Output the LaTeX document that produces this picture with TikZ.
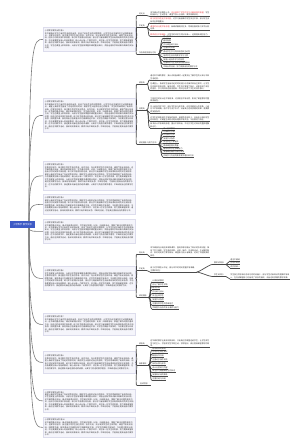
\documentclass[tikz,border=0pt]{standalone}
\usepackage{fontspec}
\setmainfont{Noto Sans CJK SC}
\usepackage{tikz}
\XeTeXlinebreaklocale "zh"
\XeTeXlinebreakskip=0pt plus 0.2pt
\definecolor{ink}{HTML}{333333}
\definecolor{wire}{HTML}{4A4A4A}
\definecolor{stemgray}{HTML}{7A7A7A}
\definecolor{rootblue}{HTML}{3F5BC6}
\definecolor{cardfill}{HTML}{F5F5FB}
\definecolor{cardline}{HTML}{DCDCEC}
\definecolor{hl}{HTML}{E8363A}
\newcommand\tinytxt{\fontsize{1.9}{2.45}\selectfont}
\newcommand\roottxt{\fontsize{2.3}{2.8}\selectfont}
% sentences of the cards
\newcommand\txtA{本节课我从学生已有的生活经验出发，创设了贴近生活的问题情境，让学生在动手操作中主动探索新知识。}
\newcommand\txtB{在教学过程中，我注重引导学生独立思考、合作交流，充分发挥学生的主体作用，课堂气氛比较活跃。}
\newcommand\txtC{但由于时间安排不够合理，练习环节显得比较仓促，部分学习有困难的学生没有得到及时的关注和指导。}
\newcommand\txtD{今后我要更加深入地钻研教材，精心设计每一个教学环节，关注每一位学生的发展，努力提高课堂效率。}
\newcommand\txtE{通过这次教学活动，我深刻地体会到，教师只有不断地反思、不断地总结，才能真正提高自身的教学水平。}
\newcommand\txtF{学生在课堂上表现积极，大部分学生能够掌握本课的重点知识，并能运用所学知识解决简单的实际问题。}
\newcommand\txtG{在今后的教学中，我还要多向有经验的老师请教，认真学习先进的教学理念，不断改进自己的教学方法。}
\newcommand\txtH{课堂上我给学生留出了充足的思考时间，鼓励学生大胆表达自己的想法，学生的思维得到了有效的训练。}
\newcommand\txtI{这节课的重点突出，难点突破得比较好，学生通过观察、比较、归纳等活动，掌握了解决问题的基本方法。}
\newcommand\txtJ{回顾整节课，我觉得自己在课堂评价方面做得还不够，对学生的鼓励不够及时，今后要注意加以改进。}

\begin{document}
\begin{tikzpicture}[x=1pt,y=-1pt,
  root/.style={fill=rootblue,text=white,font=\roottxt,inner sep=0pt,minimum width=25pt,minimum height=7pt},
  card/.style={draw=cardline,fill=cardfill,line width=0.8pt,inner sep=1.5pt,text width=89pt,anchor=north west,font=\tinytxt,text=ink,align=left},
  tpc/.style={font=\tinytxt,text=ink,inner xsep=0.2pt,inner ysep=0.5pt,anchor=south west,align=left,
    append after command={(\tikzlastnode.south west) edge[uline] (\tikzlastnode.south east)}},
  lbl/.style={tpc,inner xsep=1.8pt},
  uline/.style={draw=wire,line width=0.7pt},
  link/.style={draw=wire,line width=0.7pt},
  stem/.style={draw=stemgray,line width=0.6pt},
  brk/.style={to path={.. controls +(2.5,0) and +(-2.5,0) .. (\tikztotarget)}}]
  \useasboundingbox (0,0) rectangle (300,446);

  \node[root] (root) at (22.5,224.5) {小学数学 教学反思};
  \coordinate (up) at (29,221);
  \coordinate (dn) at (29,228);

  % left column
  \node[card,minimum height=24pt] (p1) at (43,27) {小学数学教学反思 篇1\\\txtA\txtB\txtC\txtD\txtE\txtF};
  \node[card,minimum height=34pt] (p2) at (43,98) {小学数学教学反思 篇2\\\txtA\txtH\txtB\txtI\txtF\txtC\txtJ\txtD\txtG\txtE};
  \node[card,minimum height=29pt] (p3) at (43,161) {小学数学教学反思 篇3\\\txtB\txtI\txtC\txtH\txtD\txtF\txtE\txtG};
  \node[card,minimum height=20pt] (p4) at (43,194) {小学数学教学反思 篇4\\\txtH\txtC\txtJ\txtD\txtE};
  \node[card,minimum height=24pt] (p5) at (43,219) {小学数学教学反思 篇5\\\txtI\txtA\txtF\txtC\txtG\txtE};
  \node[card,minimum height=24pt] (p6) at (43,266) {小学数学教学反思 篇6\\\txtF\txtB\txtJ\txtC\txtD\txtG};
  \node[card,minimum height=22pt] (p7) at (43,313) {小学数学教学反思 篇7\\\txtA\txtI\txtC\txtJ\txtE};
  \node[card,minimum height=22pt] (p8) at (43,351) {小学数学教学反思 篇8\\\txtB\txtH\txtC\txtD\txtG};
  \node[card,minimum height=23pt] (p9) at (43,389) {小学数学教学反思 篇9\\\txtH\txtF\txtI\txtC\txtD\txtE};
  \node[card,minimum height=20pt] (p10) at (43,417) {小学数学教学反思 篇10\\\txtI\txtB\txtJ\txtD\txtE};

  \foreach \c in {p1,p2,p3,p4}
    \draw[stem] (up) .. controls (up|-\c.west) and ([xshift=-10pt]\c.west) .. (\c.west);
  \foreach \c in {p5,p6,p7,p8,p9,p10}
    \draw[stem] (dn) .. controls (dn|-\c.west) and ([xshift=-10pt]\c.west) .. (\c.west);

  % tree of card 1
  \node[lbl] (a1) at (137,15.5) {闪光点};
  \node[lbl] (b1) at (137,27) {不足处};
  \node[lbl] (c1) at (137,54.5) {今后改进措施与方向};
  \foreach \n in {a1,b1,c1} \draw[link] (p1.east) to[brk] (\n.south west);
  \node[tpc,text width=59pt] (a1x) at (150,16.5) {本节课从生活情境入手，\textcolor{hl}{充分激发了学生的学习兴趣和探究欲望}，学生积极参与，主动思考，课堂气氛十分活跃，教学效果较好。};
  \draw[link] (a1.south east) to[brk] (a1x.south west);
  \node[tpc,text width=59pt] (b1x) at (150,23) {\textcolor{hl}{练习的层次性还不够明显}，对学习有困难的学生关注不够，部分学生没有完全掌握重点。};
  \node[tpc,text width=59pt] (b1y) at (150,30.5) {\textcolor{hl}{课堂时间分配不够合理}，新课讲解用时过多，导致后面的练习环节比较仓促。};
  \node[tpc,text width=59pt] (b1z) at (150,36.5) {\textcolor{hl}{教师语言不够精练}，对学生的评价方式比较单一，还需提高调控能力。};
  \foreach \n in {b1x,b1y,b1z} \draw[link] (b1.south east) to[brk] (\n.south west);
  \foreach \yy/\t [count=\i] in {38.5/精心备课, 42.25/因材施教, 46/优化课堂练习设计, 49.75/注重及时反馈,
      53.5/调动学生学习的积极性和主动性, 57.25/培养学生良好的数学学习习惯, 61/加强小组合作学习的指导,
      64.75/注重知识与生活实际的紧密联系, 68.5/不断反思总结，努力提高自身的教学水平}{
    \node[tpc] (c1n\i) at (163,\yy) {\t};
    \draw[link] (c1.south east) to[brk] (c1n\i.south west);
  }

  % tree of card 2
  \node[lbl] (a2) at (137,84) {收获处};
  \node[lbl] (b2) at (137,110) {问题处};
  \node[lbl] (c2) at (137,144.5) {改进措施 与努力方向};
  \foreach \n in {a2,b2,c2} \draw[link] (p2.east) to[brk] (\n.south west);
  \node[tpc,text width=59pt] (a2x) at (150,80) {通过本节课的教学，我认识到备课时一定要充分了解学生的认知水平和生活经验。};
  \node[tpc,text width=59pt] (a2y) at (150,90.5) {在课堂上，我给学生留出充足的时间进行动手操作和自主探究，让学生在实践中发现问题、解决问题，学生不仅掌握了知识，还体验到了成功的喜悦，学习的积极性明显提高，同时也培养了学生的合作意识。};
  \foreach \n in {a2x,a2y} \draw[link] (a2.south east) to[brk] (\n.south west);
  \node[tpc,text width=59pt] (b2x) at (150,102.5) {个别环节的设计还不够紧凑，过渡语言不够自然，影响了课堂教学的整体流畅性。};
  \node[tpc,text width=59pt] (b2y) at (150,113) {在小组合作学习时，部分学生参与度不高，存在依赖他人的现象，小组分工不够明确，合作学习流于形式，没有真正达到预期的效果，需要教师加强指导。};
  \node[tpc,text width=59pt] (b2z) at (150,121.5) {对学生的回答评价不够及时具体，激励性语言较少，没有充分调动学生的积极性，对课堂生成的问题处理得不够灵活，今后要努力改进。};
  \node[tpc,text width=59pt] (b2w) at (150,128) {板书设计不够美观合理，重点不够突出，不利于学生对知识的整体理解和记忆。};
  \foreach \n in {b2x,b2y,b2z,b2w} \draw[link] (b2.south east) to[brk] (\n.south west);
  \foreach \yy/\t [count=\i] in {130/深入钻研教材, 133.4/认真研究学情, 136.8/优化教学方法, 140.2/加强学法指导,
      143.6/关注学生个体差异, 147/提高课堂提问质量, 150.4/重视培养学生思维能力, 153.8/加强课后辅导与及时反馈,
      157.2/不断学习先进的教育教学理念和方法}{
    \node[tpc] (c2n\i) at (163,\yy) {\t};
    \draw[link] (c2.south east) to[brk] (c2n\i.south west);
  }

  % tree of card 6
  \node[lbl] (a6) at (137,254) {亮点处};
  \node[lbl] (b6) at (137,270.5) {不足处};
  \node[lbl] (c6) at (137,297.5) {改进措施};
  \foreach \n in {a6,b6,c6} \draw[link] (p6.east) to[brk] (\n.south west);
  \node[tpc,text width=59pt] (a6x) at (150,257) {本节课我充分利用多媒体课件，直观形象地展示了知识的形成过程，降低了学习难度。学生通过观察、比较、操作、交流等活动，主动建构知识，较好地完成了教学目标，课堂练习设计有梯度，达到了巩固提高的目的。};
  \draw[link] (a6.south east) to[brk] (a6x.south west);
  \node[tpc,text width=46pt] (b6x) at (150,272) {由于对学情估计不足，部分环节的时间把握不够准确，主要表现在：};
  \draw[link] (b6.south east) to[brk] (b6x.south west);
  \node[lbl] (d1) at (212,264.5) {教师 讲得多};
  \node[lbl] (d2) at (212,276.5) {学生 练得少};
  \foreach \n in {d1,d2} \draw[link] (b6x.south east) to[brk] (\n.south west);
  \foreach \yy/\t [count=\i] in {261/语言不精练, 264.5/引导不到位, 268/评价较单一}{
    \node[tpc] (d1n\i) at (230,\yy) {\t};
    \draw[link] (d1.south east) to[brk] (d1n\i.south west);
  }
  \node[tpc,text width=59pt] (d2x) at (230,279) {学生独立思考和动手练习的时间偏少，部分学生对新知识的理解不够深入，在完成课堂练习时出现了较多的错误，没有达到预期的教学效果。};
  \draw[link] (d2.south east) to[brk] (d2x.south west);
  \foreach \yy/\t [count=\i] in {282/认真钻研教材, 285.9/充分了解学生学情, 289.8/精讲多练, 293.7/优化练习设计,
      297.6/关注全体学生, 301.5/加强学法指导, 305.4/注重培养学生的思维能力, 309.3/不断提升自身的专业素养与能力}{
    \node[tpc] (c6n\i) at (152,\yy) {\t};
    \draw[link] (c6.south east) to[brk] (c6n\i.south west);
  }

  % tree of card 8
  \node[lbl] (a8) at (137,345) {收获处};
  \node[lbl] (b8) at (137,365) {具体做法};
  \node[lbl,inner xsep=3pt] (c8) at (137,385.5) {后续思考};
  \foreach \n in {a8,b8,c8} \draw[link] (p8.east) to[brk] (\n.south west);
  \node[tpc,text width=59pt] (a8x) at (150,347.5) {这节课的教学让我深刻体会到，只有真正把课堂还给学生，让学生成为学习的主人，才能使学生学得主动、学得轻松，真正提高课堂教学的效率。};
  \draw[link] (a8.south east) to[brk] (a8x.south west);
  \foreach \yy/\t [count=\i] in {350/创设有效的情境, 353.8/引导学生自主探究, 357.6/鼓励合作交流, 361.4/注重动手操作实践,
      365.2/及时反馈与评价, 369/设计分层练习内容, 372.8/关注学习有困难学生的状态, 376.6/加强知识间的联系,
      380.4/注重总结与归纳}{
    \node[tpc] (b8n\i) at (152,\yy) {\t};
    \draw[link] (b8.south east) to[brk] (b8n\i.south west);
  }
\end{tikzpicture}
\end{document}
